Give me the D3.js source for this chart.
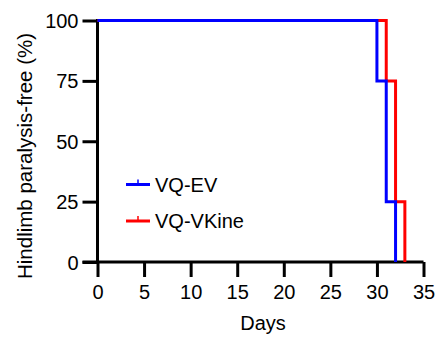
<!DOCTYPE html>
<html>
<head>
<meta charset="utf-8">
<script src="https://cdn.jsdelivr.net/npm/d3@7"></script>
<style>
  body { margin: 0; background: #fff; }
  svg text { font-family: Arial, "Liberation Sans", sans-serif; fill: #000; }
</style>
</head>
<body>
<div id="chart"></div>
<script>
// survival data (Kaplan-Meier steps)
const groups = ['VQ-EV', 'VQ-VKine'];
const colors = ['#0000ff', '#ff0000'];
const evDays = [0, 30, 31, 32];
const evSurvival = [100, 75, 25, 0];
const vkDays = [0, 31, 32, 33];
const vkSurvival = [100, 75, 25, 0];
const xTicks = [0, 5, 10, 15, 20, 25, 30, 35];
const yTicks = [0, 25, 50, 75, 100];

const width = 442, height = 339;
const tickLen = 15;

const svg = d3.select('#chart').append('svg')
    .attr('width', width)
    .attr('height', height);

const x = d3.scaleLinear().domain([0, 35]).range([97.5, 423.5]);
const y = d3.scaleLinear().domain([0, 100]).range([262, 20.5]);

// axes
const xAxis = svg.append('g')
    .attr('transform', `translate(0,${y(0)})`)
    .call(d3.axisBottom(x).tickValues(xTicks).tickSize(tickLen).tickSizeOuter(0).tickPadding(8));

const yAxis = svg.append('g')
    .attr('transform', `translate(${x(0)},0)`)
    .call(d3.axisLeft(y).tickValues(yTicks).tickSize(tickLen).tickSizeOuter(0).tickPadding(4));

[xAxis, yAxis].forEach(ax => {
    ax.selectAll('.domain').remove();
    ax.selectAll('line').attr('stroke', '#000').attr('stroke-width', 3);
    ax.selectAll('text').style('font-size', '20px').attr('fill', '#000');
});
xAxis.selectAll('text').attr('dy', '0.71em');
yAxis.selectAll('text').attr('dy', '0.35em');

// axis lines (x axis runs out to the end of the y ticks)
svg.append('line')
    .attr('x1', x(0) - tickLen).attr('x2', x(35))
    .attr('y1', y(0)).attr('y2', y(0))
    .attr('stroke', '#000').attr('stroke-width', 3);
svg.append('line')
    .attr('x1', x(0)).attr('x2', x(0))
    .attr('y1', y(0)).attr('y2', y(100) - 1.5)
    .attr('stroke', '#000').attr('stroke-width', 3);

// step lines
const line = d3.line()
    .x(d => x(d[0]))
    .y(d => y(d[1]))
    .curve(d3.curveStepAfter);

const series = [
    d3.zip(evDays, evSurvival),
    d3.zip(vkDays, vkSurvival)
];

// red underneath, blue on top
[1, 0].forEach(i => {
    svg.append('path')
        .datum(series[i])
        .attr('d', line)
        .attr('fill', 'none')
        .attr('stroke', colors[i])
        .attr('stroke-width', 3);
});

// legend
const legend = svg.append('g').attr('transform', 'translate(126,184.5)');
groups.forEach((name, i) => {
    const row = legend.append('g').attr('transform', `translate(0,${i * 36.5})`);
    row.append('line')
        .attr('x1', 0).attr('x2', 24)
        .attr('stroke', colors[i]).attr('stroke-width', 3);
    row.append('line')
        .attr('x1', 12).attr('x2', 12)
        .attr('y1', 0).attr('y2', -5)
        .attr('stroke', colors[i]).attr('stroke-width', 1.5);
    row.append('text')
        .attr('x', 29).attr('y', 0)
        .attr('dy', '0.35em')
        .style('font-size', '20px')
        .text(name);
});

// axis titles
svg.append('text')
    .attr('x', 263).attr('y', 330)
    .attr('text-anchor', 'middle')
    .style('font-size', '20px')
    .text('Days');

svg.append('text')
    .attr('transform', 'translate(31.5,156) rotate(-90)')
    .attr('text-anchor', 'middle')
    .style('font-size', '20.5px')
    .text('Hindlimb paralysis-free (%)');
</script>
</body>
</html>
